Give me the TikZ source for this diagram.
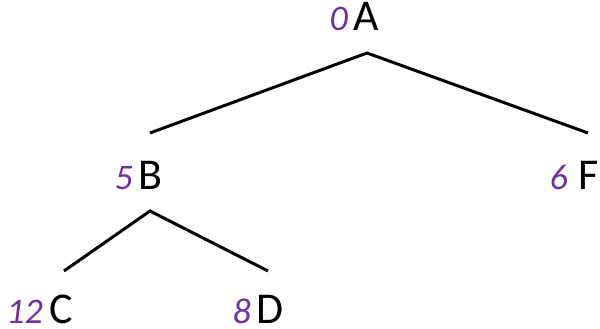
\documentclass[tikz,border=0pt]{standalone}
\usepackage{fontspec}
\setmainfont{Carlito}
\definecolor{numpurple}{HTML}{7030A0}
\begin{document}
\begin{tikzpicture}[x=1pt,y=1pt,
  letter/.style={inner sep=0pt,anchor=base west,font=\fontsize{44}{50}\selectfont},
  num/.style={inner sep=0pt,anchor=base east,text=numpurple,font=\fontsize{36}{42}\selectfont\itshape},
  edge/.style={line width=3pt,line cap=butt}]
\useasboundingbox (0,0) rectangle (600,329);
\node[letter] (A) at (353,298) {A};
\node[letter] (B) at (138,139) {B};
\node[letter] (F) at (578,139) {F};
\node[letter] (C) at (49,5) {C};
\node[letter] (D) at (256,5) {D};
\node[num] (nA) at ([xshift=-5pt]A.base west) {0};
\node[num] (nB) at ([xshift=-5pt]B.base west) {5};
\node[num] (nF) at ([xshift=-10pt]F.base west) {6};
\node[num] (nC) at ([xshift=-6pt]C.base west) {12};
\node[num] (nD) at ([xshift=-5pt]D.base west) {8};
\coordinate (Aout) at (367,276);
\coordinate (Bin) at (150,196);
\coordinate (Fin) at (588,196);
\coordinate (Bout) at (150,118);
\coordinate (Cin) at (64,58);
\coordinate (Din) at (268,58);
\draw[edge] (Bin) -- (Aout) -- (Fin);
\draw[edge] (Cin) -- (Bout) -- (Din);
\end{tikzpicture}
\end{document}
